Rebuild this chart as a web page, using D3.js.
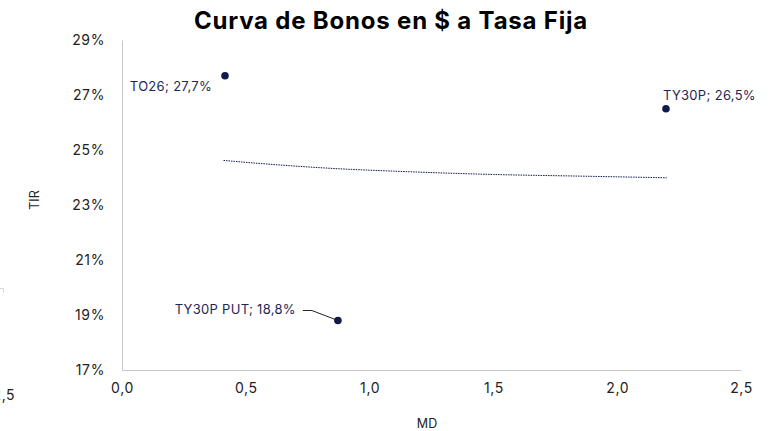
<!DOCTYPE html>
<html>
<head>
<meta charset="utf-8">
<script src="https://cdn.jsdelivr.net/npm/d3@7"></script>
<style>
  body { margin: 0; background: #fff; }
  svg { display: block; }
</style>
</head>
<body>
<div class="chart"></div>
<script>
var w = 769,
    h = 431;

// bonds: name, MD, TIR (%)
var bondNames = ["TO26", "TY30P", "TY30P PUT"];
var bondMD = [0.416, 2.197, 0.872];
var bondTIR = [27.7, 26.5, 18.8];

// trend line
var trendMD = [0.41, 0.6, 0.85, 1.1, 1.5, 1.85, 2.2];
var trendTIR = [24.62, 24.48, 24.33, 24.23, 24.11, 24.05, 23.99];

var xTicks = [0, 0.5, 1, 1.5, 2, 2.5];
var yTicks = [17, 19, 21, 23, 25, 27, 29];

var navy = "#111a4d";
var font = "Inter, sans-serif";

var svg = d3.select("body").select(".chart").append("svg")
  .attr("width", w)
  .attr("height", h);

var x = d3.scaleLinear().domain([0, 2.5]).range([122, 741]);
var y = d3.scaleLinear().domain([17, 29]).range([370, 40]);

var fmtX = function(d) { return d3.format(".1f")(d).replace(".", ","); };

// title
svg.append("text")
  .attr("x", 391)
  .attr("y", 29)
  .attr("text-anchor", "middle")
  .style("font-family", font)
  .style("font-weight", "bold")
  .style("font-size", "24px")
  .style("letter-spacing", "0.8px")
  .style("fill", "#000")
  .text("Curva de Bonos en $ a Tasa Fija");

// axes
var xAxis = svg.append("g")
  .attr("transform", "translate(0," + y(17) + ")")
  .call(d3.axisBottom(x).tickValues(xTicks).tickSize(0).tickPadding(13).tickFormat(fmtX));

var yAxis = svg.append("g")
  .attr("transform", "translate(" + x(0) + ",0)")
  .call(d3.axisLeft(y).tickValues(yTicks).tickSize(0).tickPadding(17).tickFormat(function(d) { return d + "%"; }));

[xAxis, yAxis].forEach(function(a) {
  a.select(".domain").attr("stroke", "#c8c8c8");
  a.selectAll("text")
    .style("font-family", font)
    .style("font-size", "14px")
    .style("letter-spacing", "0.6px")
    .style("fill", "#222");
});

// axis titles
svg.append("text")
  .attr("transform", "translate(39," + 200 + ") rotate(-90)")
  .attr("text-anchor", "middle")
  .style("font-family", font)
  .style("font-size", "12.5px")
  .style("fill", "#222")
  .text("TIR");

svg.append("text")
  .attr("x", 427)
  .attr("y", 428)
  .attr("text-anchor", "middle")
  .style("font-family", font)
  .style("font-size", "12.5px")
  .style("fill", "#222")
  .text("MD");

// trend line
var line = d3.line()
  .x(function(d, i) { return x(trendMD[i]); })
  .y(function(d) { return y(d); })
  .curve(d3.curveMonotoneX);

svg.append("path")
  .attr("d", line(trendTIR))
  .attr("fill", "none")
  .attr("stroke", navy)
  .attr("stroke-width", 1)
  .attr("stroke-dasharray", "1.5,1");

// points
svg.selectAll("circle.bond")
  .data(bondNames)
  .enter()
  .append("circle")
  .attr("class", "bond")
  .attr("cx", function(d, i) { return x(bondMD[i]); })
  .attr("cy", function(d, i) { return y(bondTIR[i]); })
  .attr("r", 3.8)
  .style("fill", navy);

// labels
var labelPos = [
  { dx: -13, dy: 11, anchor: "end" },
  { dx: -3, dy: -13, anchor: "start" },
  { dx: -42, dy: -11, anchor: "end" }
];

svg.selectAll("text.lbl")
  .data(bondNames)
  .enter()
  .append("text")
  .attr("class", "lbl")
  .attr("x", function(d, i) { return x(bondMD[i]) + labelPos[i].dx; })
  .attr("y", function(d, i) { return y(bondTIR[i]) + labelPos[i].dy; })
  .attr("dy", "0.35em")
  .attr("text-anchor", function(d, i) { return labelPos[i].anchor; })
  .style("font-family", font)
  .style("font-size", "13px")
  .style("letter-spacing", "0.3px")
  .style("fill", "#1f2757")
  .text(function(d, i) { return d + "; " + String(bondTIR[i]).replace(".", ",") + "%"; });

// leader line for TY30P PUT
var px = x(bondMD[2]), py = y(bondTIR[2]);
svg.append("path")
  .attr("d", "M" + (px - 35) + "," + (py - 10) + "L" + (px - 26) + "," + (py - 10) + "L" + px + "," + py)
  .attr("fill", "none")
  .attr("stroke", "#222")
  .attr("stroke-width", 1);

// remnants of neighbouring chart at the left edge
svg.append("text")
  .attr("x", 15)
  .attr("y", 400)
  .attr("text-anchor", "end")
  .style("font-family", font)
  .style("font-size", "14px")
  .style("letter-spacing", "0.5px")
  .style("fill", "#222")
  .text("2,5");

svg.append("path")
  .attr("d", "M0,288.5H3.5V293")
  .attr("fill", "none")
  .attr("stroke", "#d8d8d8")
  .attr("stroke-width", 1);
</script>
</body>
</html>
